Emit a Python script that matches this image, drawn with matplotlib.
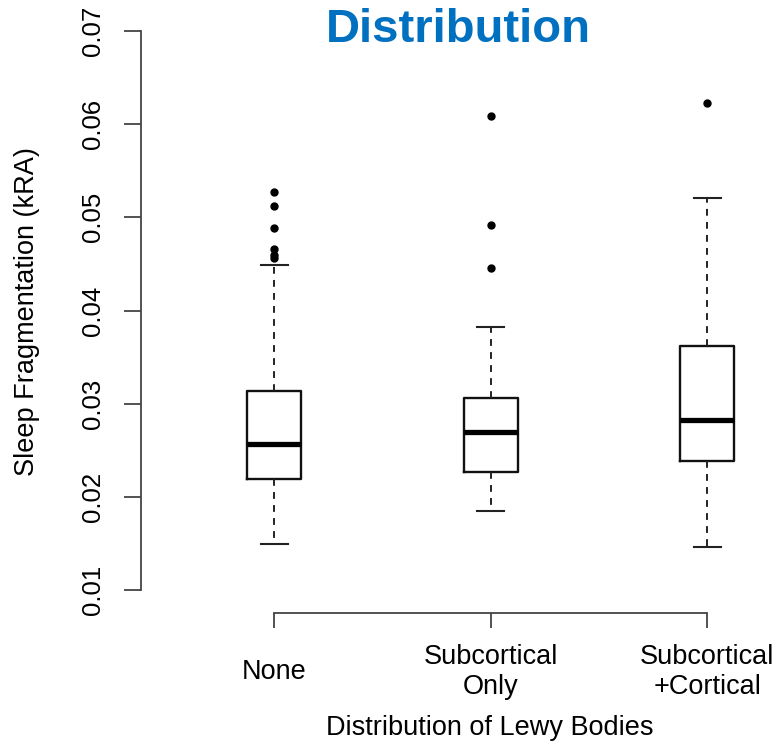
import matplotlib
matplotlib.use("Agg")
import matplotlib.pyplot as plt

plt.rcParams['font.family'] = ['Liberation Sans', 'DejaVu Sans']

# groups and summary stats
groups = ["None", "Subcortical\nOnly", "Subcortical\n+Cortical"]
q1 = [0.02195, 0.02263, 0.02385]
med = [0.02570, 0.02693, 0.02828]
q3 = [0.03136, 0.03058, 0.03619]
whis_lo = [0.01489, 0.01848, 0.01465]
whis_hi = [0.04485, 0.03820, 0.05211]
outliers = [
    [0.05275, 0.05125, 0.04889, 0.04657, 0.04596, 0.04567],
    [0.06088, 0.04918, 0.04459],
    [0.06224],
]
yticks = [0.01, 0.02, 0.03, 0.04, 0.05, 0.06, 0.07]

stats = []
for i in range(len(groups)):
    stats.append(dict(med=med[i], q1=q1[i], q3=q3[i], whislo=whis_lo[i],
                      whishi=whis_hi[i], fliers=outliers[i]))

fig = plt.figure(figsize=(7.79, 7.47), dpi=100)
ax = fig.add_axes([0.1806, 0.1798, 0.8988, 0.8087])

pos = [1, 2, 3]
ax.bxp(stats, positions=pos, widths=0.25, capwidths=0.125,
       boxprops=dict(color='#111111', linewidth=1.7),
       medianprops=dict(color='black', linewidth=3.8, solid_capstyle='butt'),
       whiskerprops=dict(color='#222222', linewidth=1.4, linestyle=(0, (3.5, 3.2))),
       capprops=dict(color='#222222', linewidth=1.5),
       flierprops=dict(marker='o', markerfacecolor='black', markeredgecolor='black',
                       markersize=5))

ax.set_xlim(0.383, 3.617)
ax.set_ylim(0.00757, 0.0724)

for s in ['top', 'right']:
    ax.spines[s].set_visible(False)
ax.spines['left'].set_bounds(0.01, 0.07)
ax.spines['bottom'].set_bounds(1, 3)
for s in ['left', 'bottom']:
    ax.spines[s].set_color('#444444')
    ax.spines[s].set_linewidth(1.3)

ax.set_yticks(yticks)
ax.set_yticklabels(["%.2f" % v for v in yticks])
ax.tick_params(axis='y', length=12, width=1.3, color='#444444', pad=14,
               labelsize=18.5, labelrotation=90)
for lbl in ax.get_yticklabels():
    lbl.set_va('center')

ax.set_xticks(pos)
ax.set_xticklabels(groups, linespacing=1.2)
ax.tick_params(axis='x', length=11, width=1.3, color='#444444', pad=32,
               labelsize=19.5)
for lbl in ax.get_xticklabels():
    lbl.set_va('center')

ax.set_xlabel("Distribution of Lewy Bodies", fontsize=19.5, va='center')
ax.xaxis.set_label_coords(0.4989, -0.1909)
ax.set_ylabel("Sleep Fragmentation (kRA)", fontsize=19.5, va='center')
ax.yaxis.set_label_coords(-0.1624, 0.4978)

fig.text(0.588, 1 - 41.7 / 747, "Distribution", color='#0070C0',
         fontsize=34, fontweight='bold', ha='center', va='baseline')

fig.savefig("out.png", dpi=100)
